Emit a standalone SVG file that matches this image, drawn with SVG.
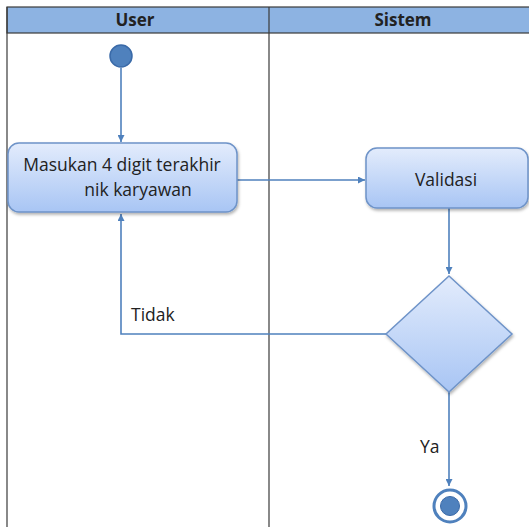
<svg xmlns="http://www.w3.org/2000/svg" width="529" height="527" viewBox="0 0 529 527">
<style>
.lane{stroke:#3a3a3a;stroke-width:1.2;fill:none}
.hdr{fill:#8db3e2;stroke:#3a3a3a;stroke-width:1.2}
.ht{font-family:"Open Sans","Liberation Sans",sans-serif;font-weight:bold;font-size:17px;fill:#222;text-anchor:middle}
.node{fill:url(#g);stroke:#6e93c8;stroke-width:1.5;filter:url(#sh)}
.t{font-family:"Open Sans","Liberation Sans",sans-serif;font-size:17.5px;fill:#222}
.c{fill:none;stroke:#4f81bd;stroke-width:1.6}
</style>
<defs>
<linearGradient id="g" x1="0" y1="0" x2="0" y2="1">
<stop offset="0" stop-color="#e3ecfc"/>
<stop offset="1" stop-color="#a8c5f4"/>
</linearGradient>
<filter id="sh" x="-10%" y="-10%" width="120%" height="130%">
<feDropShadow dx="1" dy="2" stdDeviation="1.5" flood-color="#000" flood-opacity="0.3"/>
</filter>
<marker id="a" viewBox="0 0 10 10" refX="10" refY="5" markerWidth="7" markerHeight="7" orient="auto" markerUnits="userSpaceOnUse">
<path d="M0,0 L10,5 L0,10 Z" fill="#4f81bd"/>
</marker>
</defs>
<rect width="529" height="527" fill="#fff"/>
<g id="lanes">
<rect class="hdr" x="7" y="7" width="530" height="26"/>
<line class="lane" x1="269" y1="7" x2="269" y2="527"/>
<line class="lane" x1="7" y1="7" x2="7" y2="527"/>
<text class="ht" x="135" y="26">User</text>
<text class="ht" x="403" y="26">Sistem</text>
</g>
<g id="connectors">
<line class="c" x1="121" y1="68" x2="121" y2="142" marker-end="url(#a)"/>
<line class="c" x1="237" y1="180" x2="365" y2="180" marker-end="url(#a)"/>
<line class="c" x1="449" y1="208" x2="449" y2="274" marker-end="url(#a)"/>
<polyline class="c" points="386,334 121,334 121,214" marker-end="url(#a)"/>
<line class="c" x1="449" y1="392" x2="449" y2="486" marker-end="url(#a)"/>
<text class="t" x="131" y="321">Tidak</text>
<text class="t" x="420" y="453">Ya</text>
</g>
<g id="start">
<circle cx="121" cy="56" r="11" fill="#4f81bd" stroke="#3a6aa8" stroke-width="1.5"/>
</g>
<g id="masukan">
<rect class="node" x="8" y="143" width="229" height="69" rx="11"/>
<text class="t" x="122" y="171" text-anchor="middle">Masukan 4 digit terakhir</text>
<text class="t" x="138" y="196" text-anchor="middle">nik karyawan</text>
</g>
<g id="validasi">
<rect class="node" x="366" y="148" width="162" height="60" rx="11"/>
<text class="t" x="446" y="186" text-anchor="middle">Validasi</text>
</g>
<g id="decision">
<polygon class="node" points="449,276 512,334 449,392 386,334"/>
</g>
<g id="end">
<circle cx="450" cy="506" r="16" fill="#fff" stroke="#4f81bd" stroke-width="3"/>
<circle cx="450" cy="506" r="9.5" fill="#4f81bd" stroke="#3a6aa8" stroke-width="1"/>
</g>
</svg>
